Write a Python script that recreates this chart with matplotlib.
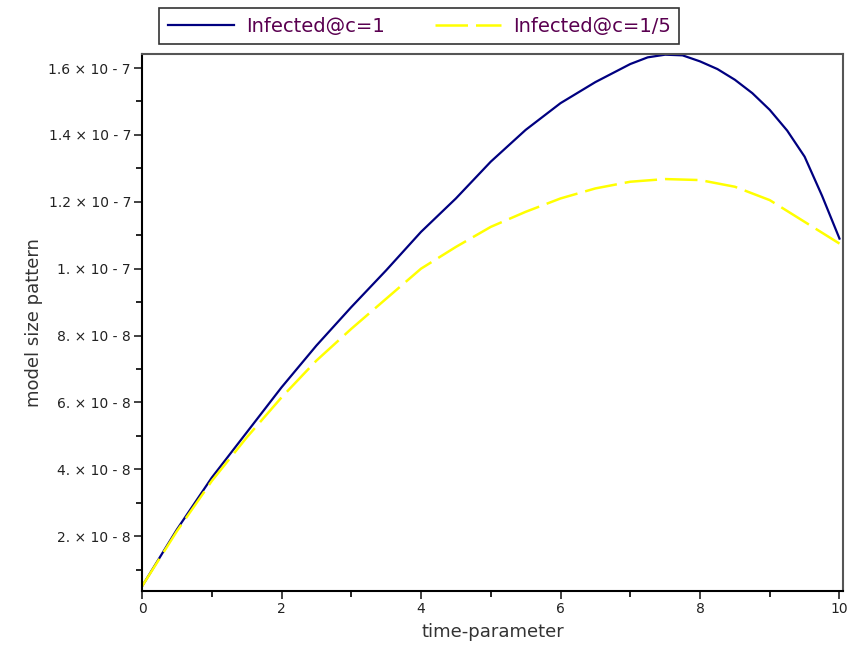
import matplotlib
matplotlib.use("Agg")
import matplotlib.pyplot as plt
from matplotlib.ticker import FixedLocator, MultipleLocator

# --- data ---
t_c1 = [0, 0.5, 1, 1.5, 2, 2.5, 3, 3.5, 4, 4.5, 5, 5.5, 6, 6.5, 7, 7.25, 7.5, 7.75,
        8, 8.25, 8.5, 8.75, 9, 9.25, 9.5, 9.75, 10]
infected_c1 = [5e-9, 2.2e-8, 3.75e-8, 5.1e-8, 6.45e-8, 7.7e-8, 8.85e-8, 9.95e-8,
               1.11e-7, 1.21e-7, 1.32e-7, 1.415e-7, 1.495e-7, 1.558e-7, 1.612e-7,
               1.632e-7, 1.64e-7, 1.638e-7, 1.62e-7, 1.597e-7, 1.565e-7, 1.525e-7,
               1.475e-7, 1.413e-7, 1.335e-7, 1.218e-7, 1.09e-7]

t_c5 = [0, 0.5, 1, 1.5, 2, 2.5, 3, 3.5, 4, 4.5, 5, 5.5, 6, 6.5, 7, 7.5,
        8, 8.5, 9, 9.5, 10]
infected_c5 = [5e-9, 2.15e-8, 3.65e-8, 4.95e-8, 6.15e-8, 7.25e-8, 8.2e-8, 9.1e-8,
               1.0e-7, 1.065e-7, 1.125e-7, 1.17e-7, 1.21e-7, 1.24e-7, 1.26e-7,
               1.268e-7, 1.265e-7, 1.245e-7, 1.205e-7, 1.14e-7, 1.075e-7]

y_ticks = [2e-8, 4e-8, 6e-8, 8e-8, 1e-7, 1.2e-7, 1.4e-7, 1.6e-7]
y_tick_labels = ["2. \u00d7 10 - 8", "4. \u00d7 10 - 8", "6. \u00d7 10 - 8", "8. \u00d7 10 - 8",
                 "1. \u00d7 10 - 7", "1.2 \u00d7 10 - 7", "1.4 \u00d7 10 - 7", "1.6 \u00d7 10 - 7"]
x_ticks = [0, 2, 4, 6, 8, 10]

# --- figure ---
fig = plt.figure(figsize=(8.49, 6.5), dpi=100)
ax = fig.add_axes([0.1673, 0.0908, 0.8256, 0.8261])

ax.plot(t_c1, infected_c1, color="#000080", lw=1.6, label="Infected@c=1")
ax.plot(t_c5, infected_c5, color="#FFFF00", lw=1.8, linestyle=(0, (13, 3.2)),
        label="Infected@c=1/5")

ax.set_xlim(0, 10.05)
ax.set_ylim(3.6e-9, 1.642e-7)

ax.xaxis.set_major_locator(FixedLocator(x_ticks))
ax.xaxis.set_minor_locator(MultipleLocator(1))
ax.yaxis.set_major_locator(FixedLocator(y_ticks))
ax.set_yticklabels(y_tick_labels)
ax.yaxis.set_minor_locator(FixedLocator([1e-8, 3e-8, 5e-8, 7e-8, 9e-8, 1.1e-7, 1.3e-7, 1.5e-7]))

ax.tick_params(which="major", direction="out", length=6, width=1.2, labelsize=10,
               colors="#222222", pad=2)
ax.tick_params(which="minor", direction="out", length=4, width=1.2)

for side in ["left", "bottom"]:
    ax.spines[side].set_linewidth(1.5)
    ax.spines[side].set_color("black")
for side in ["top", "right"]:
    ax.spines[side].set_linewidth(1.5)
    ax.spines[side].set_color("#555555")

ax.set_xlabel("time-parameter", fontsize=13, color="#333333", labelpad=5)
ax.set_ylabel("model size pattern", fontsize=13, color="#333333", labelpad=4)

leg = fig.legend(loc="upper left", bbox_to_anchor=(0.176, 1.003), ncol=2,
                 fontsize=14, frameon=True, fancybox=False, handlelength=3.4,
                 handletextpad=0.6, columnspacing=2.6, borderpad=0.45,
                 labelcolor="#5a0050")
leg.get_frame().set_edgecolor("black")
leg.get_frame().set_linewidth(1.2)

plt.savefig("out.png", dpi=100)
plt.close()
